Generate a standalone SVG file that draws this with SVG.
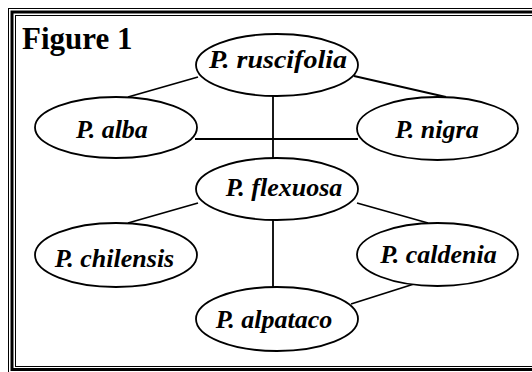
<svg xmlns="http://www.w3.org/2000/svg" width="532" height="372" viewBox="0 0 532 372">
<style>
.frame{fill:none;stroke:#000}
.node ellipse{fill:#fff;stroke:#000;stroke-width:1.8}
.node text{font-family:"Liberation Serif","Times New Roman",serif;font-weight:bold;font-style:italic;font-size:26px;text-anchor:middle;fill:#000}
.edges line{stroke:#000;stroke-width:1.8}
.title{font-family:"Liberation Serif","Times New Roman",serif;font-weight:bold;font-size:31px;fill:#000}
</style>
<rect width="532" height="372" fill="#fff"/>
<rect class="frame" x="8.5" y="8.5" width="540" height="380" stroke-width="1"/>
<rect class="frame" x="12" y="12" width="540" height="357.5" stroke-width="3"/>
<rect class="frame" x="15.5" y="15.5" width="540" height="351" stroke-width="1"/>
<text class="title" x="22" y="49">Figure 1</text>
<g class="edges">
<line x1="198" y1="77" x2="128" y2="97"/>
<line x1="354" y1="76" x2="446" y2="97"/>
<line x1="195" y1="139" x2="358" y2="139"/>
<line x1="273" y1="96" x2="273" y2="159"/>
<line x1="198" y1="203" x2="128" y2="223"/>
<line x1="357" y1="203" x2="428" y2="223"/>
<line x1="273" y1="219" x2="273" y2="288"/>
<line x1="414" y1="284" x2="351" y2="304"/>
</g>
<g id="ruscifolia" class="node"><ellipse cx="277" cy="65" rx="81" ry="31"/><text x="278" y="68" textLength="138" lengthAdjust="spacingAndGlyphs">P. ruscifolia</text></g>
<g id="alba" class="node"><ellipse cx="116" cy="127.5" rx="81" ry="30.5"/><text x="112" y="138">P. alba</text></g>
<g id="nigra" class="node"><ellipse cx="437.5" cy="128.5" rx="80.5" ry="31.5"/><text x="437" y="138">P. nigra</text></g>
<g id="flexuosa" class="node"><ellipse cx="277" cy="189" rx="81" ry="31"/><text x="284" y="196">P. flexuosa</text></g>
<g id="chilensis" class="node"><ellipse cx="116" cy="255" rx="81" ry="32"/><text x="114.5" y="267">P. chilensis</text></g>
<g id="caldenia" class="node"><ellipse cx="437.5" cy="254.5" rx="80.5" ry="31.5"/><text x="438.5" y="263">P. caldenia</text></g>
<g id="alpataco" class="node"><ellipse cx="277" cy="319" rx="81" ry="32"/><text x="274" y="328">P. alpataco</text></g>
</svg>
